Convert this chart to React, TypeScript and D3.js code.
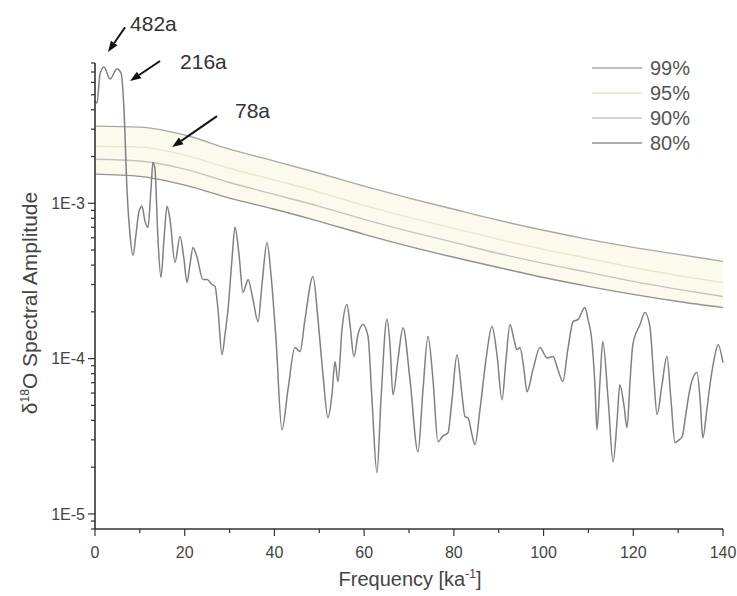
import React from 'react';
import * as d3 from 'd3';

// ---------- data ----------
const freq = [0, 0.45, 1.11, 2.0, 3.34, 4.9, 5.8, 6.46, 7.13, 7.8, 8.47, 9.14, 9.81, 10.48, 11.15, 11.81, 12.48, 12.93, 13.37, 14.04, 14.71, 15.38, 16.05, 16.72, 17.83, 18.95, 19.84, 20.51, 21.18, 21.85, 22.74, 24.07, 24.97, 26.08, 26.75, 27.42, 28.31, 28.98, 29.65, 30.54, 31.21, 32.1, 32.99, 33.66, 34.11, 35.22, 36.34, 37.23, 38.34, 39.23, 40.35, 41.68, 43.02, 44.58, 45.7, 46.81, 48.6, 49.71, 50.82, 51.94, 52.83, 53.5, 54.17, 55.06, 56.17, 56.84, 57.73, 58.63, 59.74, 60.86, 61.75, 62.86, 63.75, 65.09, 65.76, 66.43, 67.54, 68.66, 70.22, 72.0, 73.12, 74.23, 75.35, 76.46, 77.57, 78.69, 79.58, 80.7, 81.81, 82.48, 83.15, 84.04, 84.71, 85.82, 87.16, 88.5, 89.61, 90.73, 91.62, 92.51, 93.4, 94.07, 94.74, 95.63, 96.3, 97.64, 99.2, 100.76, 102.1, 103.2, 104.3, 105.4, 106.6, 107.7, 109.2, 109.9, 110.8, 111.5, 111.9, 112.6, 113.2, 114.4, 115.5, 116.4, 117.0, 117.9, 118.6, 119.3, 119.9, 121.5, 122.6, 123.7, 124.6, 125.3, 126.4, 127.5, 128.4, 129.3, 130.2, 130.9, 131.7, 132.6, 134.2, 134.9, 135.5, 136.4, 137.1, 138.0, 138.9, 140];
const amplitude = [4.55e-3, 4.42e-3, 6.79e-3, 7.53e-3, 6.31e-3, 7.33e-3, 6.9e-3, 4.04e-3, 1.23e-3, 6.31e-4, 4.62e-4, 6.31e-4, 8.88e-4, 9.57e-4, 7.65e-4, 7.0e-4, 1.23e-3, 1.84e-3, 1.66e-3, 5.86e-4, 3.33e-4, 5.86e-4, 9.57e-4, 7.88e-4, 4.16e-4, 6.12e-4, 4.35e-4, 3.09e-4, 4.04e-4, 5.2e-4, 4.49e-4, 3.23e-4, 3.23e-4, 3.0e-4, 2.92e-4, 2.07e-4, 1.06e-4, 1.43e-4, 2.07e-4, 4.35e-4, 7.0e-4, 4.69e-4, 2.67e-4, 3.0e-4, 3.23e-4, 2.4e-4, 1.73e-4, 3.0e-4, 5.6e-4, 3.48e-4, 1.33e-4, 3.48e-5, 6.31e-5, 1.18e-4, 1.11e-4, 1.79e-4, 3.38e-4, 1.79e-4, 7.89e-5, 4.16e-5, 5.86e-5, 9.57e-5, 7.11e-5, 1.54e-4, 2.23e-4, 1.66e-4, 1.03e-4, 1.43e-4, 1.66e-4, 1.39e-4, 5.43e-5, 1.84e-5, 5.43e-5, 1.79e-4, 1.23e-4, 5.86e-5, 9.86e-5, 1.58e-4, 7.33e-5, 2.51e-5, 6.31e-5, 1.39e-4, 7.33e-5, 2.92e-5, 3.18e-5, 3.33e-5, 5.43e-5, 1.06e-4, 5.86e-5, 4.23e-5, 4.16e-5, 3.24e-5, 2.79e-5, 4.69e-5, 9.86e-5, 1.61e-4, 1.06e-4, 5.43e-5, 9.86e-5, 1.66e-4, 1.33e-4, 1.14e-4, 1.18e-4, 8.49e-5, 6.12e-5, 8.49e-5, 1.18e-4, 1.01e-4, 1.03e-4, 8.49e-5, 7.11e-5, 1.14e-4, 1.73e-4, 1.79e-4, 2.13e-4, 1.79e-4, 1.27e-4, 6.31e-5, 3.48e-5, 7.33e-5, 1.29e-4, 5.43e-5, 2.16e-5, 4.04e-5, 6.79e-5, 5.05e-5, 3.59e-5, 7.33e-5, 1.23e-4, 1.66e-4, 1.98e-4, 1.61e-4, 7.33e-5, 4.36e-5, 6.79e-5, 1.03e-4, 5.43e-5, 2.87e-5, 3.0e-5, 3.14e-5, 4.36e-5, 6.31e-5, 8.13e-5, 5.43e-5, 3.09e-5, 4.69e-5, 6.79e-5, 9.86e-5, 1.23e-4, 9.42e-5];

const confFreq = [0, 10, 20, 30, 40, 50, 60, 70, 80, 90, 100, 110, 120, 130, 140];
const conf99 = [3.14e-3, 3.09e-3, 2.75e-3, 2.23e-3, 1.87e-3, 1.56e-3, 1.29e-3, 1.08e-3, 9.15e-4, 7.77e-4, 6.7e-4, 5.86e-4, 5.2e-4, 4.69e-4, 4.23e-4];
const conf95 = [2.33e-3, 2.3e-3, 2.04e-3, 1.68e-3, 1.41e-3, 1.18e-3, 9.7e-4, 8.12e-4, 6.9e-4, 5.86e-4, 5.05e-4, 4.42e-4, 3.86e-4, 3.43e-4, 3.09e-4];
const conf90 = [1.92e-3, 1.87e-3, 1.66e-3, 1.36e-3, 1.14e-3, 9.56e-4, 7.88e-4, 6.6e-4, 5.6e-4, 4.75e-4, 4.1e-4, 3.59e-4, 3.14e-4, 2.79e-4, 2.51e-4];
const conf80 = [1.54e-3, 1.49e-3, 1.31e-3, 1.08e-3, 9.15e-4, 7.65e-4, 6.31e-4, 5.28e-4, 4.49e-4, 3.86e-4, 3.33e-4, 2.92e-4, 2.59e-4, 2.33e-4, 2.13e-4];
const confLabels = ['99%', '95%', '90%', '80%'];

const xTickValues = [0, 20, 40, 60, 80, 100, 120, 140];
const yTickValues = [1e-5, 1e-4, 1e-3];
const yTickLabels = ['1E-5', '1E-4', '1E-3'];

// annotations: label, arrow tip (freq, amplitude), arrow tail (freq, amplitude)
const annLabels = ['482a', '216a', '78a'];
const annTip = [[2.9, 9.4e-3], [7.8, 6.12e-3], [17.2, 2.3e-3]];
const annTail = [[6.7, 1.36e-2], [14.5, 8.24e-3], [27.2, 3.64e-3]];

// ---------- layout / style ----------
const W = 737, H = 596;
const PL = 95, PR = 723, PT = 63, PB = 529;
const FONT = 'Liberation Sans, Arial, Helvetica, sans-serif';
const confColors = ['#aaaaa4', '#e8e6cc', '#c4c4bc', '#929290'];
const annTextOffset = [[5, 4], [20, 8], [18, 2]];

export default function App() {
  const x = d3.scaleLinear().domain([0, 140]).range([PL, PR]);
  const y = d3.scaleLog().domain([8e-6, 8e-3]).range([PB, PT]);

  const spec = freq.map((f, i) => [f, amplitude[i]] as [number, number]);
  const line = d3.line<[number, number]>().x(d => x(d[0])).y(d => y(d[1])).curve(d3.curveMonotoneX);
  const confSets = [conf99, conf95, conf90, conf80];
  const confLine = d3.line<number>().x((_, i) => x(confFreq[i])).y(d => y(d)).curve(d3.curveMonotoneX);
  const band = d3.area<number>()
    .x((_, i) => x(confFreq[i]))
    .y0((_, i) => y(conf80[i]))
    .y1(d => y(d))
    .curve(d3.curveMonotoneX);

  const yMinor = y.ticks(30).filter(t => t >= 8e-6 && t <= 8e-3);
  const xMinor = d3.range(0, 141, 10);

  const arrows = annLabels.map((lab, i) => {
    const tx = x(annTip[i][0]), ty = y(annTip[i][1]);
    const sx = x(annTail[i][0]), sy = y(annTail[i][1]);
    const ang = Math.atan2(ty - sy, tx - sx);
    const L = 11, Wd = 4;
    const bx = tx - L * Math.cos(ang), by = ty - L * Math.sin(ang);
    const p1 = [bx + Wd * Math.sin(ang), by - Wd * Math.cos(ang)];
    const p2 = [bx - Wd * Math.sin(ang), by + Wd * Math.cos(ang)];
    return { lab, tx, ty, sx, sy, bx, by, p1, p2, i };
  });

  return (
    <svg width={W} height={H} style={{ position: 'absolute', left: 0, top: 0, background: '#fff' }} fontFamily={FONT}>
      {/* confidence band */}
      <path d={band(conf99) || ''} fill="#fbfaec" stroke="none" />
      {confSets.map((c, i) => (
        <path key={i} d={confLine(c) || ''} fill="none" stroke={confColors[i]} strokeWidth={1.4} />
      ))}
      {/* spectrum */}
      <path d={line(spec) || ''} fill="none" stroke="#808080" strokeWidth={1.5} strokeLinejoin="round" />

      {/* y axis */}
      <line x1={PL} x2={PL} y1={PT} y2={PB} stroke="#333" strokeWidth={1.6} />
      {yMinor.map((t, i) => {
        const major = yTickValues.some(v => Math.abs(v - t) / v < 1e-6);
        return <line key={i} x1={PL} x2={PL - (major ? 7 : 4)} y1={y(t)} y2={y(t)} stroke="#333" strokeWidth={1.2} />;
      })}
      {yTickValues.map((t, i) => (
        <text key={i} x={PL - 10} y={y(t)} dy="0.35em" textAnchor="end" fontSize={16} fill="#444">{yTickLabels[i]}</text>
      ))}

      {/* x axis */}
      <line x1={PL} x2={PR} y1={PB} y2={PB} stroke="#333" strokeWidth={1.6} />
      {xMinor.map((t, i) => {
        const major = t % 20 === 0;
        return <line key={i} x1={x(t)} x2={x(t)} y1={PB} y2={PB + (major ? 7 : 4)} stroke="#333" strokeWidth={1.2} />;
      })}
      {xTickValues.map((t, i) => (
        <text key={i} x={x(t)} y={PB + 29} textAnchor="middle" fontSize={16} fill="#444">{t}</text>
      ))}

      {/* axis titles */}
      <text x={410} y={586} textAnchor="middle" fontSize={20} fill="#444">
        Frequency [ka<tspan dy={-8} fontSize={12}>-1</tspan><tspan dy={8}>]</tspan>
      </text>
      <text transform={`translate(37, 303) rotate(-90)`} textAnchor="middle" fontSize={21} fill="#444">
        δ<tspan dy={-8} fontSize={12}>18</tspan><tspan dy={8}>O Spectral Amplitude</tspan>
      </text>

      {/* legend */}
      {confLabels.map((lab, i) => (
        <g key={i}>
          <line x1={592} x2={642} y1={68 + i * 25} y2={68 + i * 25} stroke={confColors[i]} strokeWidth={1.4} />
          <text x={650} y={68 + i * 25} dy="0.35em" fontSize={20} fill="#555">{lab}</text>
        </g>
      ))}

      {/* annotations */}
      {arrows.map(a => (
        <g key={a.i}>
          <line x1={a.sx} y1={a.sy} x2={a.bx} y2={a.by} stroke="#111" strokeWidth={2} />
          <polygon points={`${a.tx},${a.ty} ${a.p1[0]},${a.p1[1]} ${a.p2[0]},${a.p2[1]}`} fill="#111" />
          <text x={a.sx + annTextOffset[a.i][0]} y={a.sy + annTextOffset[a.i][1]} fontSize={21} fill="#333">{a.lab}</text>
        </g>
      ))}
    </svg>
  );
}
